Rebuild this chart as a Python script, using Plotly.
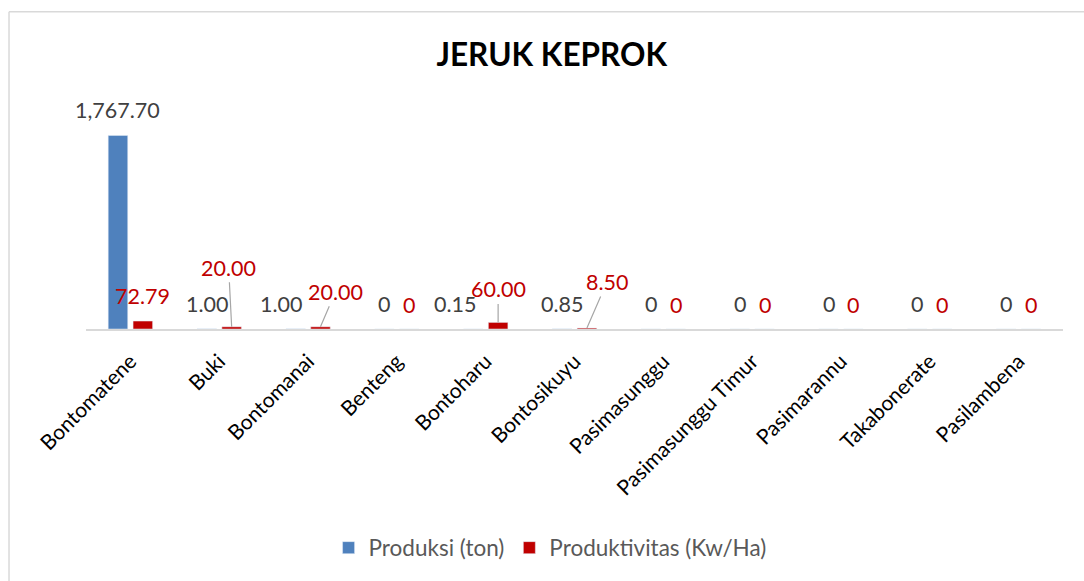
import plotly.graph_objects as go

categories = ["Bontomatene", "Buki", "Bontomanai", "Benteng", "Bontoharu", "Bontosikuyu",
              "Pasimasunggu", "Pasimasunggu Timur", "Pasimarannu", "Takabonerate", "Pasilambena"]
produksi = [1767.70, 1.00, 1.00, 0, 0.15, 0.85, 0, 0, 0, 0, 0]
produktivitas = [72.79, 20.00, 20.00, 0, 60.00, 8.50, 0, 0, 0, 0, 0]

# label placement tweaks (pixels): (dx, dy) relative to bar top
blue_label_shift = [0, 0, -15, 0, -18, 0, 0, 0, 0, 0, 0]
red_label_offset = [(0, -25), (-3, -59), (15, -35), (0, -24), (0, -33), (20, -46),
                    (0, -24), (0, -24), (0, -24), (0, -24), (0, -24)]
red_leader = [False, True, True, False, True, True, False, False, False, False, False]

BLUE = "#4F81BD"
RED = "#C00000"
FONT = "Lato"


def fmt(v):
    return "0" if v == 0 else f"{v:,.2f}"


xs = list(range(len(categories)))
fig = go.Figure()
fig.add_trace(go.Bar(x=xs, y=produksi, name="Produksi (ton)", marker_color=BLUE,
                     offset=-0.25, width=0.22))
fig.add_trace(go.Bar(x=xs, y=produktivitas, name="Produktivitas (Kw/Ha)", marker_color=RED,
                     offset=0.03, width=0.22))

annotations = []
for i, v in enumerate(produksi):
    annotations.append(dict(x=i - 0.14, y=v, xref="x", yref="y", text=fmt(v), showarrow=False,
                            xshift=blue_label_shift[i], yshift=25,
                            font=dict(family=FONT, size=21.5, color="#404040")))
for i, v in enumerate(produktivitas):
    dx, dy = red_label_offset[i]
    if red_leader[i]:
        annotations.append(dict(x=i + 0.14, y=v, xref="x", yref="y", text=fmt(v), showarrow=True,
                                arrowhead=0, arrowwidth=1.2, arrowcolor="#A6A6A6", standoff=0,
                                ax=dx, ay=dy, axref="pixel", ayref="pixel",
                                font=dict(family=FONT, size=21.5, color=RED)))
    else:
        annotations.append(dict(x=i + 0.14, y=v, xref="x", yref="y", text=fmt(v), showarrow=False,
                                xshift=dx, yshift=-dy,
                                font=dict(family=FONT, size=21.5, color=RED)))

# chart border (left and top visible)
shapes = [
    dict(type="line", xref="paper", yref="paper", x0=-0.0788, x1=-0.0788, y0=-1.2, y1=1.4487,
         line=dict(color="#D9D9D9", width=1.5)),
    dict(type="line", xref="paper", yref="paper", x0=-0.0788, x1=1.1, y0=1.4487, y1=1.4487,
         line=dict(color="#D9D9D9", width=1.5)),
]

fig.update_layout(
    width=1084, height=581,
    margin=dict(l=86, r=21, t=110, b=252),
    paper_bgcolor="white", plot_bgcolor="white",
    barmode="overlay",
    title=dict(text="<b>JERUK KEPROK</b>", x=0.509, xanchor="center", y=1 - 55 / 581,
               yanchor="middle", yref="container",
               font=dict(family=FONT, size=31.5, color="#000000")),
    xaxis=dict(tickmode="array", tickvals=xs, ticktext=categories, tickangle=-45,
               range=[-0.5, len(categories) - 0.5],
               showline=True, linecolor="#D9D9D9", linewidth=1.5, ticks="",
               ticklabelstandoff=10,
               showgrid=False, tickfont=dict(family=FONT, size=21, color="#000000")),
    yaxis=dict(range=[0, 2000], visible=False, showgrid=False, zeroline=False),
    showlegend=True,
    legend=dict(orientation="h", x=0.475, xanchor="center", y=-1.0, yanchor="middle",
                font=dict(family=FONT, size=22.5, color="#595959")),
    annotations=annotations,
    shapes=shapes,
)

fig.write_html("out.html", post_script="document.body.style.margin='0';",
               config={"displayModeBar": False})
